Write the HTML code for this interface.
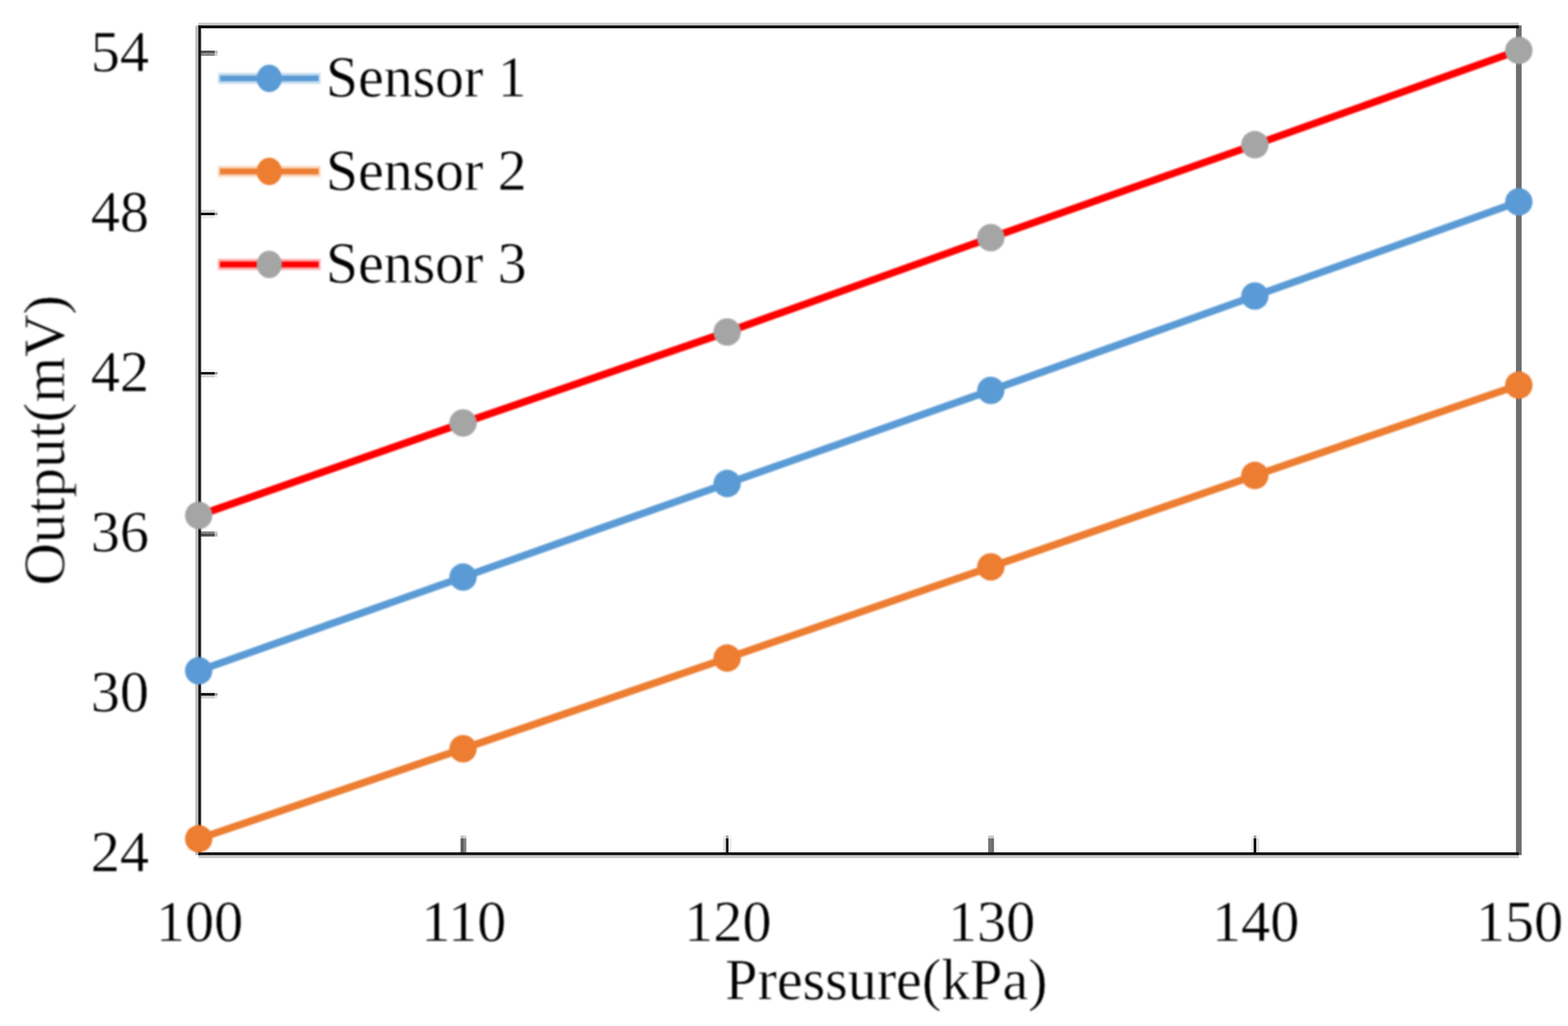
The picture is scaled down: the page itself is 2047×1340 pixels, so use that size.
<!DOCTYPE html>
<html lang="en">
<head>
<meta charset="utf-8">
<title>Sensor output vs pressure</title>
<style>
html,body{margin:0;padding:0;background:#fff;}
body{width:2047px;height:1340px;overflow:hidden;}
svg{display:block;}
text{font-family:"Liberation Serif","Times New Roman",serif;font-size:76px;fill:#000;stroke:#fff;stroke-width:0.6px;}
</style>
</head>
<body>
<svg width="2047" height="1340" viewBox="0 0 2047 1340">
<rect width="2047" height="1340" fill="#fff"/>
<defs>
<filter id="soft" x="0" y="0" width="2047" height="1340" filterUnits="userSpaceOnUse" color-interpolation-filters="sRGB"><feGaussianBlur stdDeviation="1.0"/></filter>
<filter id="soft2" x="0" y="0" width="2047" height="1340" filterUnits="userSpaceOnUse" color-interpolation-filters="sRGB"><feGaussianBlur stdDeviation="0.5"/></filter>
</defs>
<g id="chart">

<g id="frame" filter="url(#soft2)">
<g id="ticks">
<rect x="260.5" y="66.1" width="20.1" height="3.6" fill="#4f4f4f"/>
<rect x="280.6" y="66.1" width="3.4" height="3.6" fill="#b8b8b8"/>
<rect x="260.5" y="69.7" width="20.1" height="3.3" fill="#8a8a8a"/>
<rect x="280.6" y="69.7" width="3.4" height="3.3" fill="#d0d0d0"/>
<rect x="260.5" y="274.0" width="20.1" height="3.8" fill="#dcdcdc"/>
<rect x="280.6" y="274.0" width="3.4" height="3.8" fill="#f1f1f1"/>
<rect x="260.5" y="277.8" width="20.1" height="3.4" fill="#0a0a0a"/>
<rect x="280.6" y="277.8" width="3.4" height="3.4" fill="#9d9d9d"/>
<rect x="260.5" y="281.2" width="20.1" height="3.6" fill="#e8e8e8"/>
<rect x="280.6" y="281.2" width="3.4" height="3.6" fill="#f5f5f5"/>
<rect x="260.5" y="482.2" width="20.1" height="3.7" fill="#f4f4f4"/>
<rect x="280.6" y="482.2" width="3.4" height="3.7" fill="#fafafa"/>
<rect x="260.5" y="485.9" width="20.1" height="3.3" fill="#0b0b0b"/>
<rect x="280.6" y="485.9" width="3.4" height="3.3" fill="#9d9d9d"/>
<rect x="260.5" y="489.2" width="20.1" height="3.6" fill="#d0d0d0"/>
<rect x="280.6" y="489.2" width="3.4" height="3.6" fill="#ececec"/>
<rect x="260.5" y="694.0" width="20.1" height="3.0" fill="#868686"/>
<rect x="280.6" y="694.0" width="3.4" height="3.0" fill="#cecece"/>
<rect x="260.5" y="697.0" width="20.1" height="3.7" fill="#4e4e4e"/>
<rect x="280.6" y="697.0" width="3.4" height="3.7" fill="#b8b8b8"/>
<rect x="260.5" y="901.5" width="20.1" height="3.6" fill="#f4f4f4"/>
<rect x="280.6" y="901.5" width="3.4" height="3.6" fill="#fafafa"/>
<rect x="260.5" y="905.1" width="20.1" height="3.7" fill="#121212"/>
<rect x="280.6" y="905.1" width="3.4" height="3.7" fill="#a0a0a0"/>
<rect x="260.5" y="908.8" width="20.1" height="3.5" fill="#cfcfcf"/>
<rect x="280.6" y="908.8" width="3.4" height="3.5" fill="#ebebeb"/>
<rect x="601.3" y="1095.0" width="3.7" height="20.0" fill="#5c5c5c"/>
<rect x="601.3" y="1091.3" width="3.7" height="3.7" fill="#bdbdbd"/>
<rect x="605.0" y="1095.0" width="3.8" height="20.0" fill="#808080"/>
<rect x="605.0" y="1091.3" width="3.8" height="3.7" fill="#cccccc"/>
<rect x="944.2" y="1095.0" width="3.5" height="20.0" fill="#dedede"/>
<rect x="944.2" y="1091.3" width="3.5" height="3.7" fill="#f1f1f1"/>
<rect x="947.7" y="1095.0" width="3.5" height="20.0" fill="#0c0c0c"/>
<rect x="947.7" y="1091.3" width="3.5" height="3.7" fill="#9d9d9d"/>
<rect x="951.2" y="1095.0" width="3.6" height="20.0" fill="#ebebeb"/>
<rect x="951.2" y="1091.3" width="3.6" height="3.7" fill="#f7f7f7"/>
<rect x="1290.1" y="1095.0" width="3.8" height="20.0" fill="#727272"/>
<rect x="1290.1" y="1091.3" width="3.8" height="3.7" fill="#c6c6c6"/>
<rect x="1293.9" y="1095.0" width="3.7" height="20.0" fill="#6a6a6a"/>
<rect x="1293.9" y="1091.3" width="3.7" height="3.7" fill="#c3c3c3"/>
<rect x="1633.2" y="1095.0" width="3.4" height="20.0" fill="#ebebeb"/>
<rect x="1633.2" y="1091.3" width="3.4" height="3.7" fill="#f7f7f7"/>
<rect x="1636.6" y="1095.0" width="3.5" height="20.0" fill="#0c0c0c"/>
<rect x="1636.6" y="1091.3" width="3.5" height="3.7" fill="#9d9d9d"/>
<rect x="1640.1" y="1095.0" width="3.7" height="20.0" fill="#dedede"/>
<rect x="1640.1" y="1091.3" width="3.7" height="3.7" fill="#f1f1f1"/>
</g>
<g id="axes">
<rect x="1979.1" y="33.2" width="7.4" height="1083.6" fill="#6d6d6d"/>
<rect x="255.1" y="33.4" width="3.8" height="1083.4" fill="#bcbcbc"/>
<rect x="258.9" y="33.4" width="3.6" height="1083.4" fill="#181818"/>
<rect x="258.9" y="29.6" width="1724" height="3.8" fill="#c9c9c9"/>
<rect x="258.9" y="33.2" width="1724" height="3.8" fill="#0a0a0a"/>
<rect x="258.9" y="1116.8" width="1724" height="3.9" fill="#c9c9c9"/>
<rect x="258.9" y="1113.2" width="1724" height="3.6" fill="#0f0f0f"/>
</g>
</g>
<g id="series" filter="url(#soft)">
<polyline points="259.40,876.10 604.50,753.70 949.30,631.50 1293.50,509.90 1638.20,386.60 1982.80,263.60" fill="none" stroke="#5b9bd5" stroke-width="9.6" stroke-linejoin="round"/>
<circle cx="259.40" cy="876.10" r="17.9" fill="#5b9bd5"/><circle cx="604.50" cy="753.70" r="17.9" fill="#5b9bd5"/><circle cx="949.30" cy="631.50" r="17.9" fill="#5b9bd5"/><circle cx="1293.50" cy="509.90" r="17.9" fill="#5b9bd5"/><circle cx="1638.20" cy="386.60" r="17.9" fill="#5b9bd5"/><circle cx="1982.80" cy="263.60" r="17.9" fill="#5b9bd5"/>
<polyline points="259.40,1095.50 604.50,977.90 949.30,859.50 1293.50,740.40 1638.20,621.00 1982.80,503.00" fill="none" stroke="#ed7d31" stroke-width="9.6" stroke-linejoin="round"/>
<circle cx="259.40" cy="1095.50" r="17.9" fill="#ed7d31"/><circle cx="604.50" cy="977.90" r="17.9" fill="#ed7d31"/><circle cx="949.30" cy="859.50" r="17.9" fill="#ed7d31"/><circle cx="1293.50" cy="740.40" r="17.9" fill="#ed7d31"/><circle cx="1638.20" cy="621.00" r="17.9" fill="#ed7d31"/><circle cx="1982.80" cy="503.00" r="17.9" fill="#ed7d31"/>
<polyline points="259.40,673.10 604.50,552.40 949.30,433.60 1293.50,310.40 1638.20,189.00 1982.80,65.80" fill="none" stroke="#ff0000" stroke-width="9.6" stroke-linejoin="round"/>
<circle cx="259.40" cy="673.10" r="17.9" fill="#a5a5a5"/><circle cx="604.50" cy="552.40" r="17.9" fill="#a5a5a5"/><circle cx="949.30" cy="433.60" r="17.9" fill="#a5a5a5"/><circle cx="1293.50" cy="310.40" r="17.9" fill="#a5a5a5"/><circle cx="1638.20" cy="189.00" r="17.9" fill="#a5a5a5"/><circle cx="1982.80" cy="65.80" r="17.9" fill="#a5a5a5"/>
</g>
<g id="labels" filter="url(#soft)">
<text transform="translate(194.6 92.5) scale(1.0 1)" text-anchor="end">54</text>
<text transform="translate(194.6 301.6) scale(1.0 1)" text-anchor="end">48</text>
<text transform="translate(194.6 510.7) scale(1.0 1)" text-anchor="end">42</text>
<text transform="translate(194.6 719.8) scale(1.0 1)" text-anchor="end">36</text>
<text transform="translate(194.6 928.9) scale(1.0 1)" text-anchor="end">30</text>
<text transform="translate(194.6 1138.0) scale(1.0 1)" text-anchor="end">24</text>
<text transform="translate(260.4 1229.3) scale(1.0 1)" text-anchor="middle">100</text>
<text transform="translate(605.5 1229.3) scale(1.0 1)" text-anchor="middle">110</text>
<text transform="translate(950.3 1229.3) scale(1.0 1)" text-anchor="middle">120</text>
<text transform="translate(1294.5 1229.3) scale(1.0 1)" text-anchor="middle">130</text>
<text transform="translate(1639.2 1229.3) scale(1.0 1)" text-anchor="middle">140</text>
<text transform="translate(1983.8 1229.3) scale(1.0 1)" text-anchor="middle">150</text>
<text transform="translate(1157.2 1305.0) scale(0.997 1)" text-anchor="middle">Pressure(kPa)</text>
<text transform="translate(83.5 575.0) rotate(-90) scale(1.01 1)" text-anchor="middle">Output(mV)</text>
</g>
<g id="legend" filter="url(#soft)">
<line x1="284.5" y1="102.4" x2="418.7" y2="102.4" stroke="#5b9bd5" stroke-width="14.6" stroke-opacity="0.3"/>
<line x1="287" y1="102.4" x2="416" y2="102.4" stroke="#5b9bd5" stroke-width="7.6"/>
<ellipse cx="351.5" cy="102.4" rx="16.5" ry="17.9" fill="#5b9bd5"/>
<text transform="translate(425.6 126.4) scale(0.992 1)" text-anchor="start">Sensor 1</text>
<line x1="284.5" y1="223.9" x2="418.7" y2="223.9" stroke="#ed7d31" stroke-width="14.6" stroke-opacity="0.3"/>
<line x1="287" y1="223.9" x2="416" y2="223.9" stroke="#ed7d31" stroke-width="7.6"/>
<ellipse cx="351.5" cy="223.9" rx="16.5" ry="17.9" fill="#ed7d31"/>
<text transform="translate(425.6 247.9) scale(0.992 1)" text-anchor="start">Sensor 2</text>
<line x1="284.5" y1="345.4" x2="418.7" y2="345.4" stroke="#ff0000" stroke-width="14.6" stroke-opacity="0.3"/>
<line x1="287" y1="345.4" x2="416" y2="345.4" stroke="#ff0000" stroke-width="7.6"/>
<ellipse cx="351.5" cy="345.4" rx="16.5" ry="17.9" fill="#a5a5a5"/>
<text transform="translate(425.6 369.4) scale(0.992 1)" text-anchor="start">Sensor 3</text>
</g>
</g>
</svg>
</body>
</html>
